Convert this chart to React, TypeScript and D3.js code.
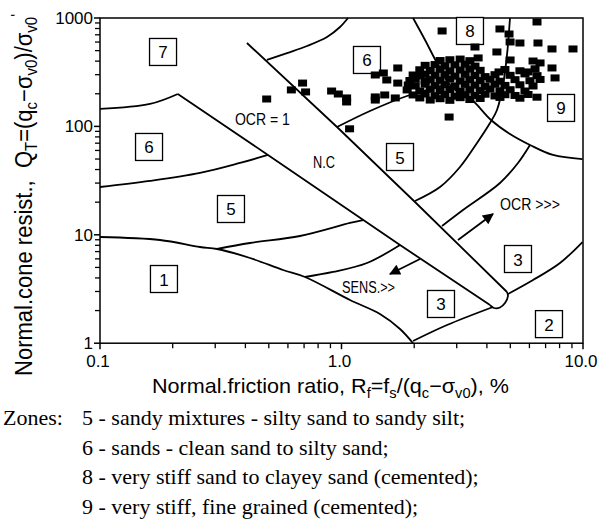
import React from 'react';
import * as d3 from 'd3';

type Pt = [number, number];

// Axis ticks
const xMajor = [0.1, 1, 10];
const xMajorLabels = ['0.1', '1.0', '10.0'];
const xMinor = [0.2, 0.3, 0.4, 0.5, 0.6, 0.7, 0.8, 0.9, 2, 3, 4, 5, 6, 7, 8, 9];
const yMajor = [1, 10, 100, 1000];
const yMajorLabels = ['1', '10', '100', '1000'];
const yMinor = [2, 3, 4, 5, 6, 7, 8, 9, 20, 30, 40, 50, 60, 70, 80, 90, 200, 300, 400, 500, 600, 700, 800, 900];

// Zone boundaries, [Rf %, Qt]
const b7to6Left: Pt[] = [[0.1, 145], [0.161, 161], [0.21, 199]];
const b7to6Right: Pt[] = [[0.491, 410], [0.595, 475], [0.72, 552], [0.871, 668], [0.986, 826], [1.064, 1000]];
const b6to5Left: Pt[] = [[0.1, 27.6], [0.161, 31.4], [0.2595, 37.2], [0.38, 46.0], [0.496, 54.5]];
const b6to5Right: Pt[] = [[0.958, 98.7], [1.312, 138.7], [1.867, 190.7], [2.787, 246]];
const zone89Lower: Pt[] = [[1.978, 1000], [2.218, 627], [2.486, 384.5], [2.814, 241], [3.155, 195], [3.47, 175], [4.159, 114.6], [4.985, 85.1], [6.033, 67.4], [7.51, 54.5], [9.95, 50.0]];
const b8to9: Pt[] = [[2.015, 20.5], [2.558, 27.6], [3.095, 42.2], [3.64, 70.3], [4.12, 107.5], [4.404, 141.7], [4.665, 241], [4.845, 456], [4.985, 1000]];
const b4to3Right: Pt[] = [[2.608, 12.06], [3.185, 16.93], [4.532, 30.06], [5.38, 46.0], [6.033, 67.4]];
const b3to2Right: Pt[] = [[4.89, 2.843], [6.209, 3.828], [8.03, 5.494], [9.95, 8.58]];
const b3to2Left: Pt[] = [[1.978, 1.048], [2.735, 1.472], [4.24, 2.158]];
const zone1Upper: Pt[] = [[0.1, 9.54], [0.1772, 8.954], [0.2595, 7.716], [0.3052, 7.396], [0.4179, 6.109], [0.5727, 4.734], [0.7063, 4.08], [1.084, 2.503], [1.443, 1.859], [1.747, 1.352], [1.978, 1.0]];
const b5to4Left: Pt[] = [[0.3052, 7.396], [0.4179, 8.403], [0.673, 9.748], [1.084, 12.85], [1.227, 13.69]];
const b4to3Left: Pt[] = [[0.7063, 4.08], [0.922, 4.538], [1.275, 5.494], [1.747, 8.05]];

// Normally consolidated band
const ncLower: Pt[] = [[0.21, 199], [0.496, 54.5], [1.747, 8.05], [4.12, 2.25]];
const ncUpper: Pt[] = [[0.406, 588], [0.958, 98.7], [2.015, 20.07], [4.845, 2.967]];
const ncTip: Pt[] = [[4.845, 2.967], [4.89, 2.725], [4.753, 2.349], [4.532, 2.135], [4.28, 2.112], [4.12, 2.25]];

// Zone labels
const zoneNames = ['7', '6', '5', '1', '6', '5', '8', '9', '3', '3', '2'];
const zoneRf = [0.1824, 0.1596, 0.3486, 0.184, 1.275, 1.747, 3.404, 8.11, 5.38, 2.582, 7.23];
const zoneQt = [486, 64.6, 17.3, 3.91, 410, 52.2, 759, 148, 5.98, 2.30, 1.50];

// Annotations
const noteTexts = ['OCR = 1', 'N.C', 'OCR >>>', 'SENS.>>'];
const noteRf = [0.362, 0.762, 4.532, 1.005];
const noteQt = [103, 41.3, 16.93, 2.905];
const noteWidths = [55, 22, 60, 53];

// Trend arrows [from, to]
const ocrArrow: Pt[] = [[3.036, 8.95], [4.24, 15.56]];
const sensArrow: Pt[] = [[2.114, 5.98], [1.588, 4.35]];

// Measured CPT points, [Rf %, Qt]
const scatterPts: Pt[] = [
  [0.49, 179], [0.62, 217], [0.69, 251], [0.71, 208], [0.91, 212], [0.97, 199],
  [1.05, 183], [1.05, 168], [1.38, 187], [1.38, 175], [1.51, 195], [1.67, 183],
  [1.38, 298], [1.49, 311], [1.54, 268], [1.71, 346], [1.71, 251], [1.08, 95],
  [2.79, 122],
  [2.61, 759], [4.53, 792], [4.94, 712], [6.45, 919], [3.57, 540], [4.40, 486],
  [4.99, 601], [5.48, 588], [6.51, 588], [7.44, 518], [9.09, 518], [3.68, 428],
  [4.99, 410], [6.21, 401], [6.64, 385], [7.44, 346], [7.66, 280], [4.49, 318],
  [5.92, 318],
];
const clusterPts: Pt[] = [
  [2.56, 405], [2.81, 412], [3.10, 418], [3.40, 404],
  [2.22, 366], [2.44, 372], [2.68, 362], [2.95, 370], [3.25, 375], [3.57, 360],
  [2.11, 333], [2.33, 328], [2.56, 336], [2.81, 325], [3.10, 331], [3.40, 338],
  [3.75, 329], [4.75, 335], [5.48, 326], [6.33, 340],
  [1.98, 298], [2.11, 292], [2.22, 303], [2.44, 296], [2.68, 300], [2.95, 291],
  [3.25, 302], [3.57, 295], [3.93, 288], [4.32, 300], [4.99, 296], [5.75, 305], [6.45, 294],
  [1.92, 265], [2.02, 272], [2.22, 262], [2.33, 270], [2.56, 266], [2.81, 273],
  [3.10, 262], [3.40, 270], [3.75, 265], [4.12, 272], [4.53, 261], [5.23, 270],
  [6.03, 264], [6.64, 271],
  [1.89, 241], [2.02, 236], [2.22, 245], [2.44, 238], [2.68, 243], [2.95, 236],
  [3.25, 244], [3.57, 240], [3.93, 234], [4.32, 245], [4.75, 239], [5.48, 242], [6.21, 236],
  [1.87, 217], [2.11, 212], [2.33, 220], [2.56, 214], [2.81, 219], [3.10, 211],
  [3.40, 218], [3.75, 214], [4.12, 221], [4.53, 213], [4.99, 218], [5.75, 212],
  [1.98, 195], [2.22, 199], [2.44, 192], [2.68, 197], [2.95, 190], [3.25, 196],
  [3.57, 193], [3.93, 198], [4.32, 191], [4.75, 196], [5.23, 193], [5.92, 197],
  [2.11, 183], [2.56, 180], [3.10, 184], [3.75, 181], [4.53, 185], [5.48, 182], [6.45, 186],
  [2.33, 175], [2.81, 174], [3.40, 177],
];

// Zone descriptions below the chart
const zoneNotes = [
  '5 - sandy mixtures - silty sand to sandy silt;',
  '6 - sands - clean sand to silty sand;',
  '8 - very stiff sand to clayey sand (cemented);',
  '9 - very stiff, fine grained (cemented);',
];

const SANS = "'Liberation Sans', Arial, sans-serif";
const SERIF = "'Liberation Serif', 'Times New Roman', serif";

export default function App() {
  const x = d3.scaleLog().domain([0.1, 10]).range([100, 583]);
  const y = d3.scaleLog().domain([1, 1000]).range([343.2, 18]);
  const [x0, x1] = x.range();
  const [yb, yt] = y.range();

  const straight = d3.line<Pt>().x(d => x(d[0])).y(d => y(d[1]));
  const smooth = d3.line<Pt>().x(d => x(d[0])).y(d => y(d[1])).curve(d3.curveCatmullRom.alpha(0.5));

  const curves = [b7to6Left, b7to6Right, b6to5Left, b6to5Right, zone89Lower, b8to9, b4to3Right,
    b3to2Right, b3to2Left, zone1Upper, b5to4Left, b4to3Left];

  const sub = { fontSize: '0.68em' } as React.CSSProperties;

  return (
    <svg width={601} height={529} style={{ position: 'absolute', left: 0, top: 0, background: '#fff' }}>
      <defs>
        <marker id="ah" viewBox="0 0 10 10" refX="9" refY="5" markerWidth="17" markerHeight="11"
          markerUnits="userSpaceOnUse" orient="auto">
          <path d="M0,0 L10,5 L0,10 z" fill="#000" />
        </marker>
      </defs>

      {/* frame */}
      <rect x={x0} y={yt} width={x1 - x0} height={yb - yt} fill="none" stroke="#000" strokeWidth={1.5} />

      {/* ticks */}
      {xMinor.map((v, i) => (
        <line key={'xm' + i} x1={x(v)} x2={x(v)} y1={yb} y2={yb + 5} stroke="#000" strokeWidth={1.3} />
      ))}
      {xMajor.map((v, i) => (
        <g key={'xM' + i}>
          <line x1={x(v)} x2={x(v)} y1={yb} y2={yb + 6} stroke="#000" strokeWidth={1.5} />
          <text x={x(v) - 2} y={yb + 24} textAnchor="middle" fontFamily={SANS} fontSize={17}>{xMajorLabels[i]}</text>
        </g>
      ))}
      {yMinor.map((v, i) => (
        <line key={'ym' + i} x1={x0 - 5} x2={x0} y1={y(v)} y2={y(v)} stroke="#000" strokeWidth={1.3} />
      ))}
      {yMajor.map((v, i) => (
        <g key={'yM' + i}>
          <line x1={x0 - 6} x2={x0} y1={y(v)} y2={y(v)} stroke="#000" strokeWidth={1.5} />
          <text x={x0 - 7} y={y(v) + 6} textAnchor="end" fontFamily={SANS} fontSize={17}>{yMajorLabels[i]}</text>
        </g>
      ))}

      {/* axis titles */}
      <text x={152} y={393} fontFamily={SANS} fontSize={21} textLength={357} lengthAdjust="spacingAndGlyphs">
        Normal.friction ratio, R<tspan dy={5} style={sub}>f</tspan><tspan dy={-5}>=f</tspan>
        <tspan dy={5} style={sub}>s</tspan><tspan dy={-5}>/(q</tspan><tspan dy={5} style={sub}>c</tspan>
        <tspan dy={-5}>−σ</tspan><tspan dy={5} style={sub}>v0</tspan><tspan dy={-5}>), %</tspan>
      </text>
      <text transform="translate(32,376) rotate(-90)" fontFamily={SANS} fontSize={23} textLength={362} lengthAdjust="spacingAndGlyphs">
        Normal.cone resist.,{'\u00a0\u00a0'}Q<tspan dy={5} style={sub}>T</tspan><tspan dy={-5}>=(q</tspan>
        <tspan dy={5} style={sub}>c</tspan><tspan dy={-5}>−σ</tspan><tspan dy={5} style={sub}>v0</tspan>
        <tspan dy={-5}>)/σ</tspan><tspan dy={5} style={sub}>v0</tspan><tspan dy={-14} style={sub}>'</tspan>
      </text>

      {/* zone boundaries */}
      {curves.map((c, i) => (
        <path key={'c' + i} d={smooth(c) || ''} fill="none" stroke="#000" strokeWidth={1.8} />
      ))}
      <path d={straight(ncLower) || ''} fill="none" stroke="#000" strokeWidth={1.8} />
      <path d={straight(ncUpper) || ''} fill="none" stroke="#000" strokeWidth={1.8} />
      <path d={smooth(ncTip) || ''} fill="none" stroke="#000" strokeWidth={1.8} />

      {/* trend arrows */}
      {[ocrArrow, sensArrow].map((a, i) => (
        <line key={'a' + i} x1={x(a[0][0])} y1={y(a[0][1])} x2={x(a[1][0])} y2={y(a[1][1])}
          stroke="#000" strokeWidth={1.8} markerEnd="url(#ah)" />
      ))}

      {/* annotations */}
      {noteTexts.map((t, i) => (
        <text key={'n' + i} x={x(noteRf[i])} y={y(noteQt[i])} fontFamily={SANS} fontSize={16}
          textLength={noteWidths[i]} lengthAdjust="spacingAndGlyphs">{t}</text>
      ))}

      {/* zone number boxes */}
      {zoneNames.map((z, i) => (
        <g key={'z' + i}>
          <rect x={x(zoneRf[i]) - 13.5} y={y(zoneQt[i]) - 13.5} width={27} height={27} fill="#fff" stroke="#000" strokeWidth={1.3} />
          <text x={x(zoneRf[i])} y={y(zoneQt[i]) + 6.5} textAnchor="middle" fontFamily={SANS} fontSize={17}>{z}</text>
        </g>
      ))}

      {/* data points */}
      {scatterPts.concat(clusterPts).map((p, i) => (
        <rect key={'p' + i} x={x(p[0]) - 4.5} y={y(p[1]) - 3.5} width={9} height={7} fill="#000" />
      ))}

      {/* zone key */}
      <text x={3} y={425} fontFamily={SERIF} fontSize={22}>Zones:</text>
      {zoneNotes.map((t, i) => (
        <text key={'zn' + i} x={82} y={425 + i * 29.7} fontFamily={SERIF} fontSize={22}>{t}</text>
      ))}
    </svg>
  );
}
